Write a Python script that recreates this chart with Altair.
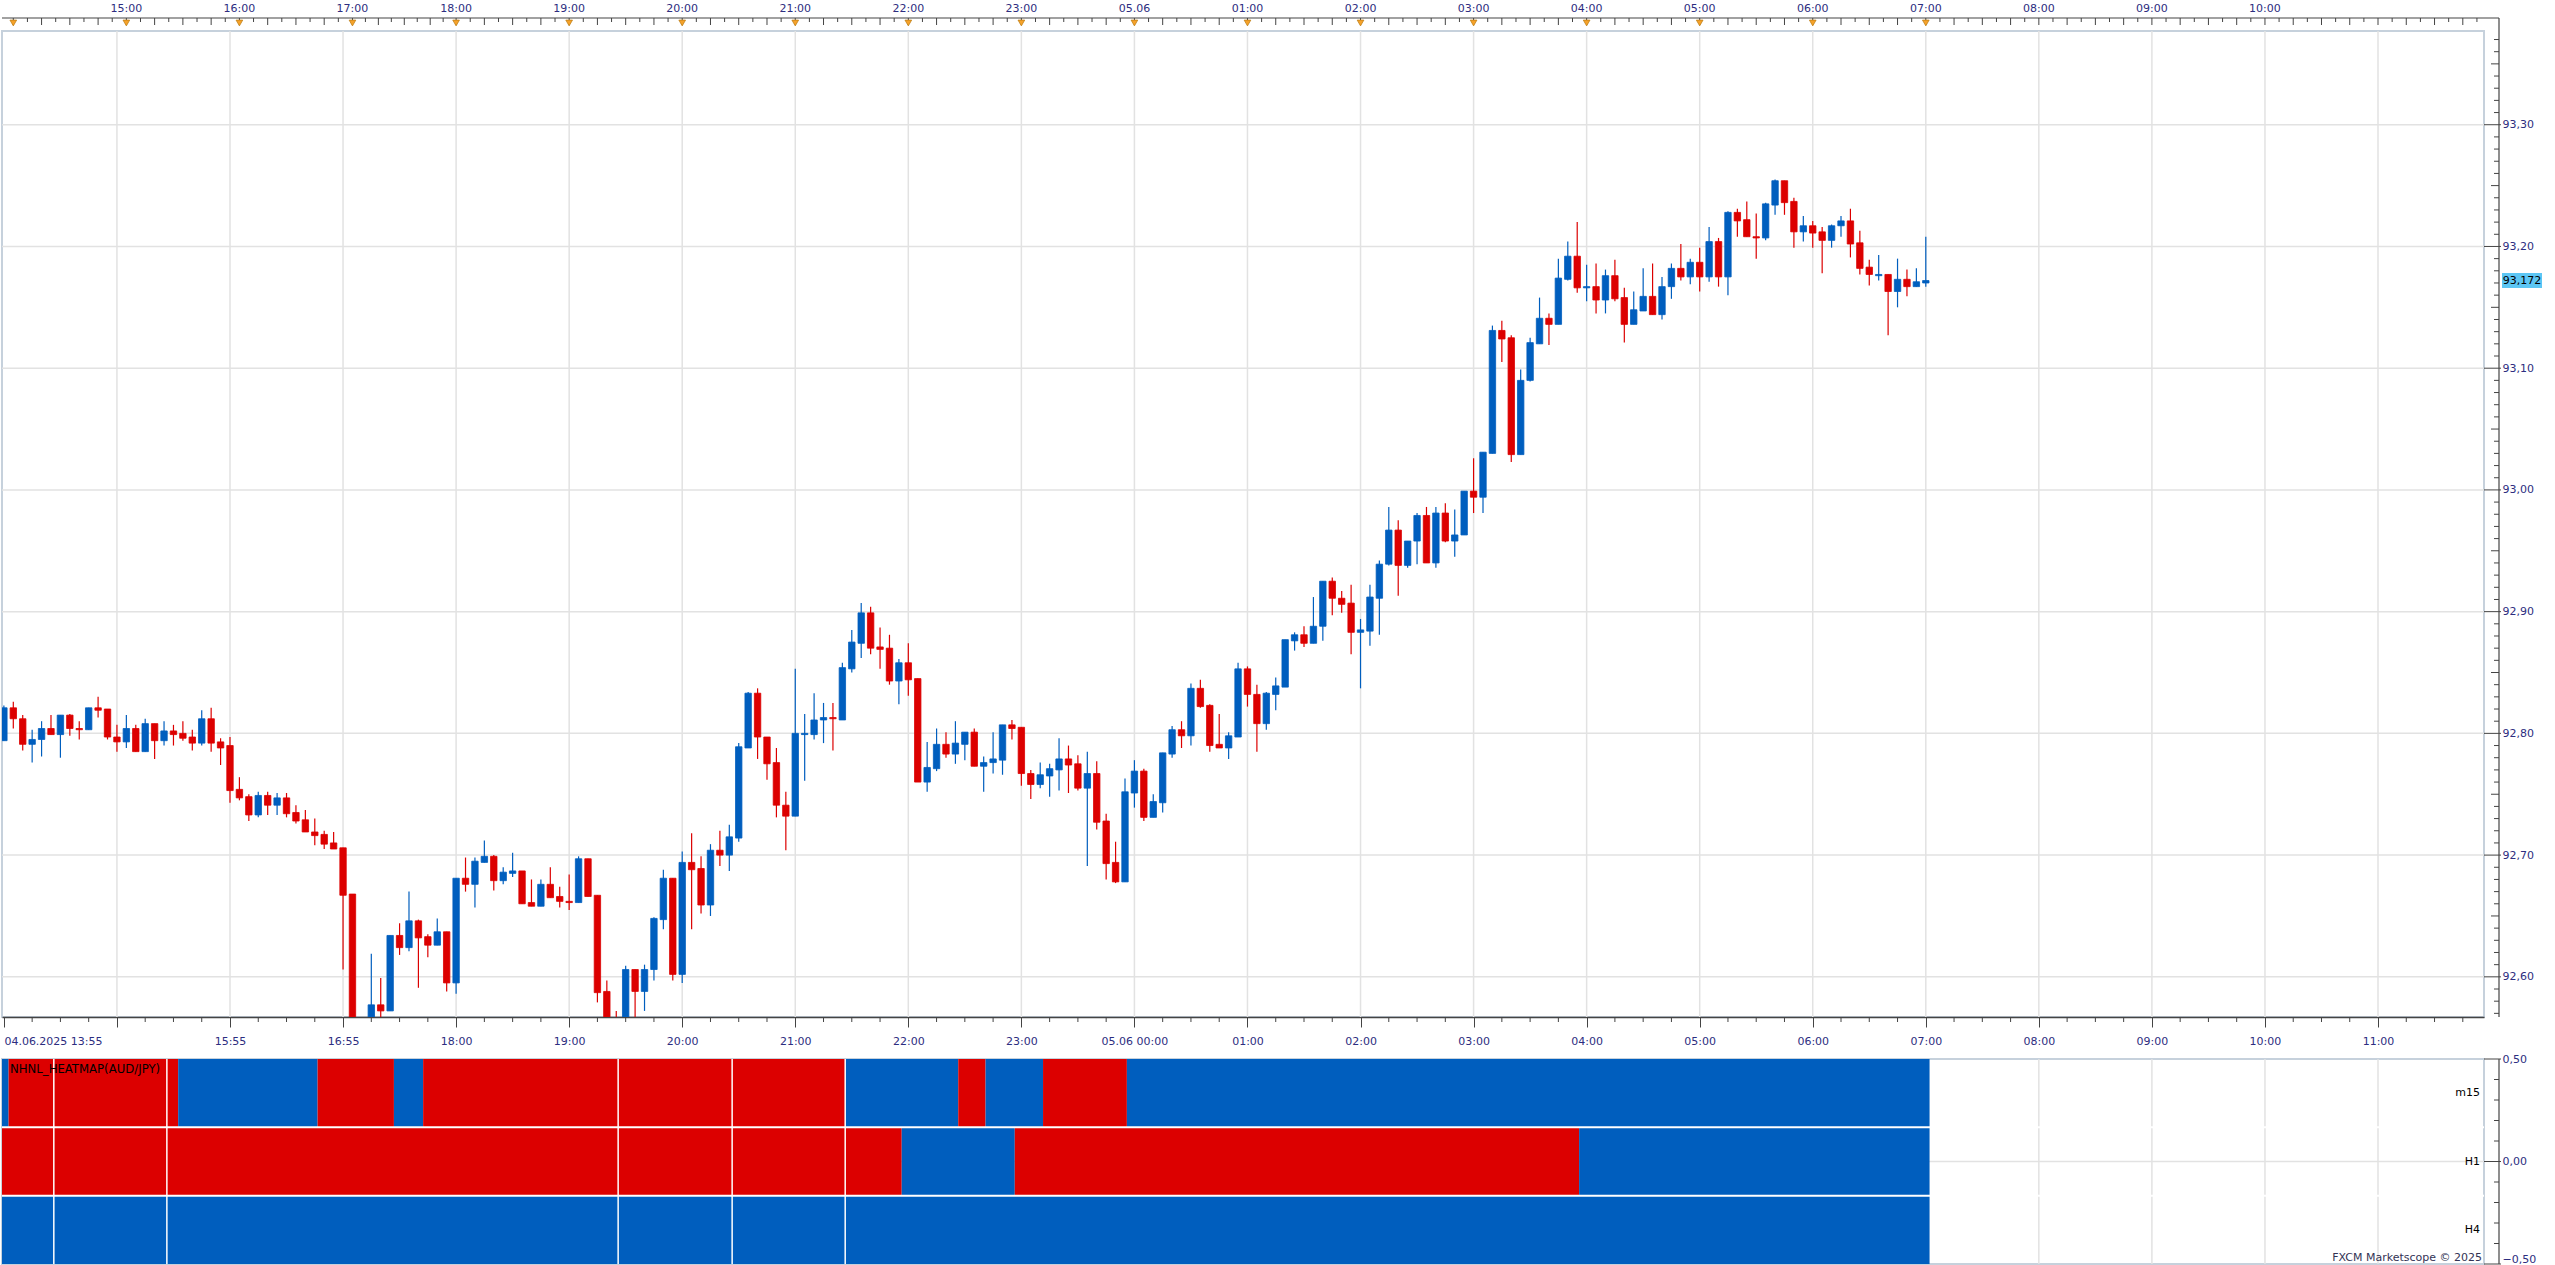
import altair as alt
import pandas as pd

# ---------------- data: AUD/JPY m5 candles (slot index = 5-minute bar position) ----------------
slots = list(range(0, 38)) + list(range(39, 205))

opens = [92.794, 92.821, 92.812, 92.791, 92.795, 92.804, 92.799, 92.815, 92.804, 92.803,
         92.821, 92.820, 92.797, 92.793, 92.804, 92.785, 92.808, 92.794, 92.802, 92.800,
         92.797, 92.792, 92.812, 92.793, 92.790, 92.754, 92.748, 92.733, 92.749, 92.741,
         92.747, 92.735, 92.729, 92.719, 92.717, 92.710, 92.706, 92.668,
         92.560, 92.577, 92.572, 92.634, 92.624, 92.646, 92.633, 92.626, 92.637, 92.595,
         92.681, 92.676, 92.694, 92.699, 92.679, 92.685, 92.687, 92.661, 92.658, 92.676,
         92.666, 92.662, 92.661, 92.697, 92.667, 92.588, 92.565, 92.562, 92.606, 92.588,
         92.606, 92.647, 92.681, 92.602, 92.694, 92.689, 92.659, 92.704, 92.700, 92.714,
         92.788, 92.833, 92.797, 92.776, 92.741, 92.732, 92.799, 92.799, 92.811, 92.813,
         92.811, 92.853, 92.874, 92.899, 92.871, 92.870, 92.843, 92.858, 92.845, 92.760,
         92.771, 92.791, 92.783, 92.791, 92.801, 92.773, 92.776, 92.778, 92.807, 92.805,
         92.767, 92.758, 92.765, 92.770, 92.779, 92.775, 92.755, 92.767, 92.728, 92.694,
         92.678, 92.751, 92.769, 92.731, 92.743, 92.783, 92.803, 92.798, 92.837, 92.823,
         92.791, 92.788, 92.797, 92.853, 92.832, 92.808, 92.832, 92.838, 92.876, 92.881,
         92.874, 92.888, 92.925, 92.911, 92.907, 92.883, 92.884, 92.911, 92.939, 92.967,
         92.938, 92.958, 92.979, 92.940, 92.981, 92.958, 92.963, 92.999, 92.994, 93.030,
         93.131, 93.125, 93.029, 93.090, 93.120, 93.141, 93.136, 93.173, 93.192, 93.166,
         93.167, 93.156, 93.176, 93.158, 93.136, 93.147, 93.159, 93.144, 93.167, 93.182,
         93.175, 93.187, 93.175, 93.204, 93.175, 93.228, 93.222, 93.208, 93.207, 93.234,
         93.254, 93.237, 93.212, 93.217, 93.212, 93.205, 93.217, 93.221, 93.203, 93.183,
         93.176, 93.177, 93.163, 93.173, 93.167, 93.170]

highs = [92.823, 92.826, 92.815, 92.803, 92.810, 92.815, 92.815, 92.816, 92.810, 92.821,
         92.830, 92.820, 92.807, 92.815, 92.807, 92.812, 92.808, 92.810, 92.807, 92.810,
         92.803, 92.819, 92.821, 92.796, 92.797, 92.764, 92.750, 92.752, 92.752, 92.751,
         92.751, 92.741, 92.737, 92.730, 92.720, 92.719, 92.706, 92.668,
         92.619, 92.599, 92.634, 92.644, 92.670, 92.647, 92.635, 92.648, 92.637, 92.681,
         92.698, 92.698, 92.712, 92.700, 92.690, 92.702, 92.687, 92.680, 92.680, 92.690,
         92.674, 92.684, 92.699, 92.697, 92.667, 92.597, 92.572, 92.609, 92.606, 92.610,
         92.649, 92.688, 92.681, 92.703, 92.718, 92.699, 92.709, 92.720, 92.725, 92.792,
         92.834, 92.837, 92.797, 92.788, 92.752, 92.853, 92.816, 92.833, 92.825, 92.825,
         92.858, 92.885, 92.907, 92.904, 92.887, 92.881, 92.861, 92.874, 92.845, 92.793,
         92.804, 92.801, 92.810, 92.801, 92.804, 92.781, 92.801, 92.807, 92.811, 92.805,
         92.770, 92.776, 92.775, 92.796, 92.790, 92.782, 92.785, 92.777, 92.734, 92.711,
         92.763, 92.778, 92.771, 92.750, 92.784, 92.806, 92.810, 92.841, 92.844, 92.824,
         92.816, 92.801, 92.858, 92.855, 92.840, 92.834, 92.846, 92.877, 92.883, 92.888,
         92.912, 92.925, 92.928, 92.917, 92.922, 92.894, 92.922, 92.942, 92.986, 92.975,
         92.958, 92.981, 92.986, 92.986, 92.989, 92.984, 92.999, 93.026, 93.031, 93.135,
         93.139, 93.127, 93.099, 93.125, 93.158, 93.145, 93.190, 93.204, 93.220, 93.185,
         93.186, 93.181, 93.189, 93.166, 93.163, 93.182, 93.186, 93.175, 93.186, 93.202,
         93.190, 93.199, 93.216, 93.207, 93.229, 93.231, 93.237, 93.227, 93.236, 93.255,
         93.254, 93.240, 93.225, 93.221, 93.216, 93.218, 93.225, 93.231, 93.213, 93.189,
         93.193, 93.177, 93.190, 93.181, 93.182, 93.208]

lows = [92.794, 92.804, 92.786, 92.776, 92.781, 92.799, 92.780, 92.798, 92.795, 92.803,
        92.813, 92.795, 92.785, 92.788, 92.785, 92.785, 92.779, 92.790, 92.790, 92.794,
        92.786, 92.790, 92.785, 92.774, 92.743, 92.745, 92.728, 92.731, 92.733, 92.733,
        92.731, 92.726, 92.719, 92.708, 92.705, 92.705, 92.606, 92.548,
        92.555, 92.562, 92.572, 92.618, 92.621, 92.591, 92.616, 92.626, 92.588, 92.586,
        92.670, 92.657, 92.694, 92.671, 92.676, 92.682, 92.660, 92.658, 92.658, 92.665,
        92.657, 92.655, 92.661, 92.666, 92.579, 92.555, 92.552, 92.555, 92.562, 92.572,
        92.597, 92.639, 92.597, 92.595, 92.639, 92.652, 92.650, 92.691, 92.687, 92.711,
        92.788, 92.779, 92.762, 92.731, 92.704, 92.732, 92.761, 92.795, 92.792, 92.786,
        92.811, 92.850, 92.862, 92.865, 92.853, 92.840, 92.824, 92.831, 92.760, 92.752,
        92.769, 92.780, 92.775, 92.778, 92.773, 92.752, 92.767, 92.766, 92.795, 92.757,
        92.746, 92.755, 92.748, 92.753, 92.751, 92.753, 92.691, 92.721, 92.680, 92.677,
        92.678, 92.739, 92.728, 92.731, 92.735, 92.780, 92.788, 92.790, 92.821, 92.785,
        92.788, 92.779, 92.797, 92.822, 92.785, 92.803, 92.819, 92.838, 92.868, 92.871,
        92.874, 92.876, 92.897, 92.899, 92.865, 92.837, 92.872, 92.881, 92.938, 92.913,
        92.936, 92.939, 92.940, 92.936, 92.957, 92.945, 92.963, 92.981, 92.981, 93.030,
        93.105, 93.023, 93.029, 93.089, 93.120, 93.119, 93.136, 93.172, 93.162, 93.155,
        93.145, 93.145, 93.155, 93.121, 93.136, 93.147, 93.144, 93.140, 93.157, 93.172,
        93.169, 93.163, 93.171, 93.167, 93.160, 93.208, 93.208, 93.190, 93.205, 93.226,
        93.226, 93.199, 93.204, 93.199, 93.178, 93.199, 93.208, 93.191, 93.177, 93.168,
        93.172, 93.127, 93.150, 93.159, 93.167, 93.167]

closes = [92.821, 92.812, 92.791, 92.795, 92.804, 92.799, 92.815, 92.804, 92.803, 92.821,
          92.819, 92.797, 92.793, 92.804, 92.785, 92.808, 92.794, 92.802, 92.799, 92.796,
          92.792, 92.812, 92.792, 92.788, 92.753, 92.747, 92.733, 92.749, 92.741, 92.747,
          92.734, 92.728, 92.719, 92.716, 92.709, 92.705, 92.667, 92.556,
          92.577, 92.572, 92.634, 92.624, 92.646, 92.632, 92.626, 92.637, 92.595, 92.681,
          92.676, 92.695, 92.699, 92.679, 92.686, 92.687, 92.660, 92.658, 92.676, 92.665,
          92.662, 92.661, 92.697, 92.666, 92.587, 92.560, 92.558, 92.606, 92.588, 92.606,
          92.648, 92.681, 92.602, 92.694, 92.688, 92.659, 92.704, 92.700, 92.715, 92.789,
          92.833, 92.797, 92.775, 92.741, 92.732, 92.800, 92.800, 92.811, 92.813, 92.812,
          92.854, 92.875, 92.899, 92.870, 92.869, 92.843, 92.858, 92.844, 92.760, 92.772,
          92.791, 92.783, 92.792, 92.801, 92.773, 92.776, 92.779, 92.807, 92.804, 92.767,
          92.758, 92.766, 92.771, 92.779, 92.774, 92.755, 92.767, 92.727, 92.693, 92.678,
          92.752, 92.769, 92.731, 92.744, 92.784, 92.803, 92.798, 92.837, 92.822, 92.790,
          92.788, 92.798, 92.853, 92.832, 92.808, 92.833, 92.839, 92.877, 92.881, 92.874,
          92.888, 92.925, 92.911, 92.906, 92.883, 92.885, 92.912, 92.939, 92.967, 92.938,
          92.958, 92.979, 92.940, 92.981, 92.958, 92.963, 92.999, 92.994, 93.031, 93.131,
          93.124, 93.029, 93.090, 93.121, 93.141, 93.136, 93.174, 93.192, 93.166, 93.167,
          93.156, 93.176, 93.157, 93.136, 93.148, 93.159, 93.144, 93.167, 93.182, 93.175,
          93.187, 93.175, 93.204, 93.175, 93.228, 93.221, 93.208, 93.207, 93.235, 93.254,
          93.236, 93.212, 93.217, 93.211, 93.205, 93.217, 93.221, 93.202, 93.182, 93.177,
          93.177, 93.163, 93.173, 93.167, 93.171, 93.172]

# axis labels
bottom_tick_slots = [0, 12, 24, 36, 48, 60, 72, 84, 96, 108, 120, 132, 144, 156, 168,
                     180, 192, 204, 216, 228, 240, 252]
bottom_tick_labels = ["04.06.2025 13:55", "", "15:55", "16:55", "18:00", "19:00", "20:00",
                      "21:00", "22:00", "23:00", "05.06 00:00", "01:00", "02:00", "03:00",
                      "04:00", "05:00", "06:00", "07:00", "08:00", "09:00", "10:00", "11:00"]
top_label_slots = [13, 25, 37, 48, 60, 72, 84, 96, 108, 120, 132, 144, 156, 168, 180,
                   192, 204, 216, 228, 240]
top_label_texts = ["15:00", "16:00", "17:00", "18:00", "19:00", "20:00", "21:00", "22:00",
                   "23:00", "05.06", "01:00", "02:00", "03:00", "04:00", "05:00", "06:00",
                   "07:00", "08:00", "09:00", "10:00"]
marker_slots = [1, 13, 25, 37, 48, 60, 72, 84, 96, 108, 120, 132, 144, 156, 168, 180,
                192, 204]
hour_slots = [1, 13, 25, 37, 48, 60, 72, 84, 96, 108, 120, 132, 144, 156, 168, 180,
              192, 204, 216, 228, 240, 252, 264]
grid_slots = [12, 24, 36, 48, 60, 72, 84, 96, 108, 120, 132, 144, 156, 168, 180, 192,
              204, 216, 228, 240, 252]
price_grid = [92.6, 92.7, 92.8, 92.9, 93.0, 93.1, 93.2, 93.3]

# heatmap (NHNL) segments, slot edges and state per row
m15_edges = [-0.2, 0.5, 18.5, 33.3, 41.4, 44.5, 89.3, 101.3, 104.2, 110.3, 119.2, 204.4]
m15_states = ["up", "down", "up", "down", "up", "down", "up", "down", "up", "down", "up"]
h1_edges = [-0.2, 95.3, 107.3, 167.2, 204.4]
h1_states = ["down", "up", "down", "up"]
h4_edges = [-0.2, 204.4]
h4_states = ["up"]
heat_white_lines = [5.3, 17.3, 65.2, 77.3, 89.3]
row_names = ["m15", "H1", "H4"]
row_values = [1 / 3, 0.0, -1 / 3]
heat_axis_values = [-0.5, 0.0, 0.5]

# ---------------- layout / style ----------------
W = 2482
H = 986
H2 = 205
AX = W + 15
BLUE = "#005EBE"
RED = "#DC0000"
LABEL = "#2D2D80"
DARK = "#444444"
GRID = "#E2E2E2"
FRAME = "#C6D1DC"
ORANGE = "#F6A22A"
FONT = "DejaVu Sans"
NARROW = "Liberation Sans Narrow, DejaVu Sans Condensed, Liberation Sans, sans-serif"

xs = alt.Scale(domain=[-0.2, 263.25], nice=False, zero=False)
ys = alt.Scale(domain=[92.567, 93.377], nice=False, zero=False)
hs = alt.Scale(domain=[-0.5, 0.5], nice=False, zero=False)
cs = alt.Scale(domain=["up", "down"], range=[BLUE, RED])

df = pd.DataFrame(dict(slot=slots, open=opens, high=highs, low=lows, close=closes))
df["dir"] = ["up" if c >= o else "down" for o, c in zip(opens, closes)]

lab_arr = "[" + ",".join("'%s'" % t for t in bottom_tick_labels) + "]"
val_arr = "[" + ",".join(str(v) for v in bottom_tick_slots) + "]"
x_label_expr = f"{lab_arr}[indexof({val_arr}, datum.value)]"
comma_expr = "replace(format(datum.value, '.2f'), '.', ',')"

xaxis = alt.Axis(orient="bottom", values=bottom_tick_slots, labelExpr=x_label_expr,
                 tickSize=10, tickColor=DARK, domainColor=DARK, domainWidth=1.5,
                 labelFont=FONT, labelFontSize=11, labelColor=LABEL, labelPadding=8,
                 labelFlush=5, labelOverlap=False, grid=False, title=None)
yaxis = alt.Axis(orient="right", values=price_grid, labelExpr=comma_expr, domain=False,
                 ticks=False, labelPadding=18, labelFont=FONT, labelFontSize=11,
                 labelColor=LABEL, grid=False, title=None)
haxis = alt.Axis(orient="right", values=heat_axis_values, labelExpr=comma_expr, domain=False,
                 ticks=False, labelPadding=18, labelFont=FONT, labelFontSize=11,
                 labelColor=LABEL, grid=False, title=None,
                 labelBaseline=alt.condition("datum.value < 0", alt.value("bottom"),
                                             alt.value("middle")))

# every layer repeats the same axis definition so that the merged (shared) axis stays enabled
X = lambda f: alt.X(f, scale=xs, axis=xaxis, title=None)
Y = lambda f: alt.Y(f, scale=ys, axis=yaxis, title=None)
HX = lambda f: alt.X(f, scale=xs, axis=None, title=None)
HY = lambda f: alt.Y(f, scale=hs, axis=haxis, title=None)
one = pd.DataFrame({"a": [0]})

# tick positions for the top time strip (8 per hour) and bottom minor ticks
top_long, top_short = [], []
for a, b in zip(hour_slots[:-1], hour_slots[1:]):
    for j in range(8):
        s = a + (b - a) * j / 8
        if s <= 264.5:
            (top_long if j % 2 == 0 else top_short).append(s)
bottom_minor = [s for s in range(0, 264, 3) if s % 12 != 0]

grid_h = alt.Chart(pd.DataFrame({"p": price_grid})).mark_rule(color=GRID, strokeWidth=1.5).encode(
    y=Y("p:Q"), x=alt.value(0), x2=alt.value(W))
grid_v = alt.Chart(pd.DataFrame({"s": grid_slots})).mark_rule(color=GRID, strokeWidth=1.5).encode(
    x=X("s:Q"), y=alt.value(0), y2=alt.value(H))

wicks = alt.Chart(df).mark_rule(clip=True, strokeWidth=1.2).encode(
    x=X("slot:Q"), y=Y("low:Q"), y2="high:Q",
    color=alt.Color("dir:N", scale=cs, legend=None))
bodies = alt.Chart(df).transform_calculate(
    xl="datum.slot - 0.34", xr="datum.slot + 0.34").mark_rect(clip=True, strokeWidth=0.8).encode(
    x=X("xl:Q"), x2="xr:Q", y=Y("open:Q"), y2="close:Q",
    fill=alt.Fill("dir:N", scale=cs, legend=None),
    stroke=alt.Stroke("dir:N", scale=cs, legend=None))

top_line = alt.Chart(one).mark_rule(color=DARK, strokeWidth=1.2).encode(
    x=alt.value(0), x2=alt.value(AX), y=alt.value(-13))
t_long = alt.Chart(pd.DataFrame({"s": top_long})).mark_rule(color=DARK).encode(
    x=X("s:Q"), y=alt.value(-13), y2=alt.value(-6))
t_short = alt.Chart(pd.DataFrame({"s": top_short})).mark_rule(color=DARK).encode(
    x=X("s:Q"), y=alt.value(-13), y2=alt.value(-9))
markers = alt.Chart(pd.DataFrame({"s": marker_slots})).mark_point(
    shape="triangle-down", filled=True, fill=ORANGE, stroke="#B87A10", strokeWidth=0.7,
    size=45, opacity=1).encode(x=X("s:Q"), y=alt.value(-8))
top_labels = alt.Chart(pd.DataFrame({"s": top_label_slots, "t": top_label_texts})).mark_text(
    font=FONT, fontSize=11, color=LABEL).encode(x=X("s:Q"), y=alt.value(-22), text="t:N")
b_minor = alt.Chart(pd.DataFrame({"s": bottom_minor})).mark_rule(color=DARK).encode(
    x=X("s:Q"), y=alt.value(H), y2=alt.value(H + 5))

r_line = alt.Chart(one).mark_rule(color=DARK, strokeWidth=1.2).encode(
    x=alt.value(AX), y=alt.value(-13), y2=alt.value(H))
p_major = price_grid
p_mid = [92.65, 92.75, 92.85, 92.95, 93.05, 93.15, 93.25, 93.35]
p_minor = [round(92.57 + 0.01 * k, 2) for k in range(81)]
p_minor = [v for v in p_minor if round(v * 100) % 5 != 0]
rt_major = alt.Chart(pd.DataFrame({"p": p_major})).mark_rule(color=DARK).encode(
    y=Y("p:Q"), x=alt.value(W), x2=alt.value(AX + 2))
rt_mid = alt.Chart(pd.DataFrame({"p": p_mid})).mark_rule(color=DARK).encode(
    y=Y("p:Q"), x=alt.value(AX - 8), x2=alt.value(AX))
rt_minor = alt.Chart(pd.DataFrame({"p": p_minor})).mark_rule(color=DARK).encode(
    y=Y("p:Q"), x=alt.value(AX - 5), x2=alt.value(AX))

last = pd.DataFrame({"p": [closes[-1]]})
last_box = alt.Chart(last).mark_point(
    shape="M-1,-0.375H1V0.375H-1Z", filled=True, fill="#5CC6F4", strokeWidth=0,
    size=1600, opacity=1).encode(x=alt.value(AX + 23), y=Y("p:Q"))
last_text = alt.Chart(last).transform_calculate(
    t="replace(format(datum.p, '.3f'), '.', ',')").mark_text(
    font=FONT, fontSize=11, color="black").encode(x=alt.value(AX + 23), y=Y("p:Q"), text="t:N")

price = alt.layer(grid_h, grid_v, wicks, bodies, top_line, t_long, t_short, markers,
                  top_labels, b_minor, r_line, rt_major, rt_mid, rt_minor, last_box,
                  last_text).properties(width=W, height=H)

# ---------------- heatmap pane ----------------
row_top = {"m15": 0.5, "H1": 1 / 6, "H4": -1 / 6}
row_bot = {"m15": 1 / 6, "H1": -1 / 6, "H4": -0.5}
segs = []
for name, edges, states in [("m15", m15_edges, m15_states), ("H1", h1_edges, h1_states),
                            ("H4", h4_edges, h4_states)]:
    for a, b, s in zip(edges[:-1], edges[1:], states):
        segs.append(dict(row=name, start=a, end=b, state=s, top=row_top[name], bot=row_bot[name]))
seg_df = pd.DataFrame(segs)

h_grid_h = alt.Chart(pd.DataFrame({"v": [0.0]})).mark_rule(color=GRID, strokeWidth=1.5).encode(
    y=HY("v:Q"), x=alt.value(0), x2=alt.value(W))
h_grid_v = alt.Chart(pd.DataFrame({"s": grid_slots})).mark_rule(color=GRID, strokeWidth=1.5).encode(
    x=HX("s:Q"), y=alt.value(0), y2=alt.value(H2))
h_rects = alt.Chart(seg_df).mark_rect().encode(
    x=HX("start:Q"), x2="end:Q", y=HY("top:Q"), y2="bot:Q",
    fill=alt.Fill("state:N", scale=cs, legend=None))
h_sep = alt.Chart(pd.DataFrame({"v": [1 / 6, -1 / 6]})).mark_rule(color="white", strokeWidth=2).encode(
    y=HY("v:Q"), x=alt.value(0), x2=alt.value(W))
h_white = alt.Chart(pd.DataFrame({"s": heat_white_lines})).mark_rule(color="white", strokeWidth=1.5).encode(
    x=HX("s:Q"), y=alt.value(0), y2=alt.value(H2))
h_rowlab = alt.Chart(pd.DataFrame({"r": row_names, "v": row_values})).mark_text(
    font=FONT, fontSize=11, color="black", align="right").encode(
    x=alt.value(W - 4), y=HY("v:Q"), text="r:N")
h_title = alt.Chart(pd.DataFrame({"t": ["NHNL_HEATMAP(AUD/JPY)"]})).mark_text(
    font=NARROW, fontSize=13, color="black", align="left", baseline="top").encode(
    x=alt.value(8), y=alt.value(4), text="t:N")
h_fxcm = alt.Chart(pd.DataFrame({"t": ["FXCM Marketscope © 2025"]})).mark_text(
    font=FONT, fontSize=11, color="#333355", align="right", baseline="bottom").encode(
    x=alt.value(W - 2), y=alt.value(H2 - 1), text="t:N")
h_rline = alt.Chart(one).mark_rule(color=DARK, strokeWidth=1.2).encode(
    x=alt.value(AX), y=alt.value(0), y2=alt.value(H2))
h_major = alt.Chart(pd.DataFrame({"v": heat_axis_values})).mark_rule(color=DARK).encode(
    y=HY("v:Q"), x=alt.value(W), x2=alt.value(AX + 2))
h_minor_vals = [-0.4, -0.3, -0.2, -0.1, 0.1, 0.2, 0.3, 0.4]
h_minor = alt.Chart(pd.DataFrame({"v": h_minor_vals})).mark_rule(color=DARK).encode(
    y=HY("v:Q"), x=alt.value(AX - 5), x2=alt.value(AX))

heat = alt.layer(h_grid_h, h_grid_v, h_rects, h_sep, h_white, h_rowlab, h_title, h_fxcm,
                 h_rline, h_major, h_minor).properties(width=W, height=H2)

chart = alt.vconcat(price, heat, spacing=5).properties(
    padding={"left": 0, "top": 2, "right": 0, "bottom": 0}, background="white"
).configure_view(stroke=FRAME, strokeWidth=2)

chart.save("out.html", embed_options={"renderer": "svg", "actions": False})
